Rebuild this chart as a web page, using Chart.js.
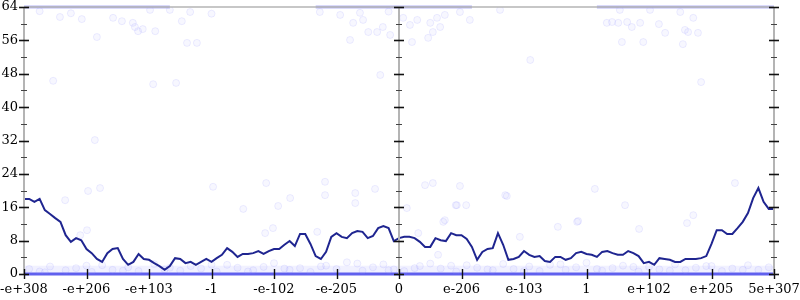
<!DOCTYPE html>
<html>
<head>
<meta charset="utf-8">
<script src="https://cdn.jsdelivr.net/npm/chart.js@4.4.0/dist/chart.umd.min.js"></script>
<style>
  html, body { margin: 0; padding: 0; background: #fff; }
  #wrap { width: 800px; height: 300px; position: relative; }
</style>
</head>
<body>
<div id="wrap"><canvas id="c"></canvas></div>
<script>
// etiquetas del eje x (una cada 12 muestras)
const xTickLabels = ["-e+308", "-e+206", "-e+103", "-1", "-e-102", "-e-205", "0",
  "e-206", "e-103", "1", "e+102", "e+205", "5e+307"];

// línea principal (145 muestras, índice 0..144)
const lineValues = [
  18.0, 18.0, 17.3, 18.0, 15.3, 14.4, 13.4, 12.5, 9.3, 7.7, 8.6, 8.1,
  6.0, 5.0, 3.6, 2.9, 5.0, 6.0, 6.2, 3.6, 2.2, 2.9, 4.8, 3.6,
  3.4, 2.6, 1.9, 1.0, 1.9, 3.8, 3.6, 2.6, 2.9, 2.2, 2.9, 3.6,
  2.9, 3.8, 4.6, 6.2, 5.3, 4.1, 4.8, 4.8, 5.0, 5.5, 4.8, 5.5,
  6.0, 6.0, 7.0, 7.9, 6.7, 9.6, 9.6, 7.2, 4.3, 3.6, 5.3, 8.9,
  9.8, 8.9, 8.6, 9.8, 10.3, 10.1, 8.6, 9.1, 11.0, 11.5, 11.0, 7.9,
  8.6, 8.9, 8.9, 8.6, 7.7, 6.5, 6.5, 8.6, 8.1, 7.9, 9.8, 9.3,
  9.3, 8.4, 6.5, 3.4, 5.3, 6.0, 6.2, 9.8, 7.0, 3.4, 3.6, 4.1,
  5.5, 4.6, 4.1, 4.3, 3.1, 2.9, 4.1, 4.1, 3.4, 3.8, 5.0, 5.3,
  4.8, 4.6, 4.1, 5.3, 5.5, 5.0, 4.6, 4.6, 5.5, 5.0, 4.3, 2.6,
  2.9, 2.2, 3.8, 3.6, 3.4, 2.9, 2.9, 3.6, 3.6, 3.6, 3.8, 4.3,
  7.2, 10.5, 10.5, 9.6, 9.6, 11.0, 12.5, 14.6, 18.2, 20.6, 17.3, 15.6,
  15.6
];

// puntos dispersos cerca del techo (64)
const highX = [6.9, 11.1, 14.0, 17.1, 18.8, 20.9, 21.3, 21.9, 22.8, 25.2, 30.3, 31.3, 33.2, 28.0, 24.2, 31.9,
  62.6, 63.2, 64.5, 65.1, 66.1, 67.8, 68.9, 70.3, 72.8, 74.1, 74.5, 75.5, 77.6, 78.0, 78.5, 79.3, 79.9, 80.8,
  68.4, 56.8, 60.7, 83.7, 85.6, 91.4, 97.2, 111.9, 112.9, 114.1, 115.8, 116.7, 118.3, 121.9, 123.1, 126.9,
  127.5, 129.4, 114.8, 118.9, 126.5, 130.0, 128.5, 5.6, 24.8, 29.2, 114.4, 120.2, 126.0, 3.0, 9.0, 36.0, 70.0];
const highY = [61.6, 61.1, 56.8, 61.4, 60.6, 60.2, 59.2, 58.2, 58.7, 58.2, 60.6, 55.4, 55.4, 63.3, 63.3, 62.8,
  56.1, 60.2, 62.6, 60.9, 58.0, 58.0, 59.2, 57.3, 61.4, 59.7, 55.6, 60.9, 56.6, 60.2, 58.0, 61.4, 59.2, 62.1,
  47.7, 62.8, 62.1, 62.8, 60.9, 63.3, 51.3, 60.2, 60.4, 60.2, 60.4, 59.2, 60.2, 59.9, 57.8, 58.5,
  58.0, 57.8, 55.6, 55.6, 55.1, 46.0, 61.4, 46.3, 45.5, 45.8, 63.3, 63.3, 62.8, 63.0, 62.5, 62.4, 62.9];

// puntos dispersos en la zona media
const midX = [7.9, 12.3, 14.6, 10.8, 12.1, 36.3, 46.5, 57.8, 63.6, 57.8, 42.1, 48.8, 51.1, 63.6, 56.3, 46.3,
  47.8, 67.4, 77.0, 78.5, 83.7, 92.7, 84.9, 83.1, 80.5, 73.5, 75.7, 106.2, 115.4, 118.1, 128.5, 127.3,
  136.5, 80.8, 82.9, 79.5, 92.4, 109.6, 102.5, 106.4, 95.2, 13.6];
const midY = [17.7, 19.9, 20.6, 9.3, 10.5, 20.9, 21.8, 22.1, 19.4, 18.9, 15.6, 16.3, 18.2, 17.0, 10.1, 9.8,
  11.0, 20.4, 21.3, 21.8, 21.1, 18.7, 16.5, 16.5, 12.5, 15.8, 9.8, 12.5, 16.5, 10.8, 14.1, 12.2,
  21.8, 12.9, 16.5, 4.6, 18.9, 20.4, 11.3, 12.7, 8.9, 32.1];

// nube cercana a cero
const lowX = [1, 3, 5, 8, 10, 13, 15, 17, 20, 22, 25, 27, 30, 32, 34, 37, 39, 41, 44, 46, 48, 51, 53, 55,
  58, 60, 62, 65, 67, 69, 71, 73, 76, 78, 80, 83, 85, 87, 90, 92, 94, 97, 99, 101, 104, 106, 108, 111,
  113, 115, 118, 120, 122, 125, 127, 129, 132, 134, 136, 139, 141, 143, 4, 12, 19, 28, 36, 43, 50, 57,
  64, 70, 75, 82, 89, 96, 103, 110, 117, 124, 131, 138];
const lowY = [1.2, 0.6, 1.8, 0.9, 1.4, 0.5, 2.1, 1.0, 1.6, 0.7, 2.4, 1.1, 0.8, 1.9, 1.3, 0.6, 2.2, 1.5,
  0.9, 1.7, 2.6, 1.0, 1.4, 0.5, 2.0, 1.2, 2.8, 0.8, 1.6, 2.3, 1.1, 0.7, 1.9, 2.5, 1.3, 0.6, 2.1, 1.5,
  0.9, 2.4, 1.2, 1.8, 0.7, 2.2, 1.0, 1.6, 2.7, 0.8, 1.4, 2.0, 0.6, 1.7, 1.1, 2.3, 0.9, 1.5, 1.9, 0.7,
  1.3, 2.1, 1.0, 1.6, 0.4, 2.0, 0.8, 1.5, 2.2, 0.6, 1.3, 1.8, 2.5, 0.9, 1.4, 2.0, 1.1, 0.7, 2.3, 1.2,
  1.7, 0.8, 1.9, 1.0];

// bandas densas en 0 y 64
const zeroBandX = [0, 144];
const zeroBandY = [0, 0];
const hazeY = [0.9, 0.9];
const topBandX = [0, 28, null, 56, 86, null, 110, 130, null, 130, 144];
const topBandY = [64, 64, null, 64, 64, null, 64, 64, null, 64, 64];

const pts = (xs, ys) => xs.map((x, i) => ({ x: x, y: x === null ? null : ys[i] }));

const FONT = "'DejaVu Serif', serif";

// ejes, marcas y líneas grises
const axesPlugin = {
  id: "axesDeco",
  afterDatasetsDraw(chart) {
    const { ctx, chartArea: a, scales: { x, y } } = chart;
    const xs = [a.left, x.getPixelForValue(72), a.right];
    ctx.save();
    ctx.strokeStyle = "#b4b4b4";
    ctx.lineWidth = 2;
    xs.forEach(px => {
      ctx.beginPath(); ctx.moveTo(px, a.top); ctx.lineTo(px, a.bottom); ctx.stroke();
    });
    ctx.lineWidth = 1.5;
    ctx.beginPath(); ctx.moveTo(a.left, a.top); ctx.lineTo(a.right, a.top); ctx.stroke();

    for (let v = 0; v <= 64; v += 4) {
      const py = Math.round(y.getPixelForValue(v)) + 0.5;
      const major = v % 8 === 0;
      ctx.strokeStyle = major ? "#111" : "#444";
      ctx.lineWidth = major ? 1.6 : 1;
      const h = major ? 5 : 3;
      xs.forEach(px => {
        ctx.beginPath(); ctx.moveTo(px - h, py); ctx.lineTo(px + h, py); ctx.stroke();
      });
    }
    ctx.strokeStyle = "#111";
    ctx.lineWidth = 1.4;
    for (let i = 0; i <= 144; i += 12) {
      const px = Math.round(x.getPixelForValue(i)) + 0.5;
      ctx.beginPath(); ctx.moveTo(px, a.bottom - 5); ctx.lineTo(px, a.bottom + 5); ctx.stroke();
    }
    ctx.restore();
  }
};

const cloudStyle = {
  type: "scatter",
  pointRadius: 3.5,
  pointBackgroundColor: "rgba(150,150,255,0.08)",
  pointBorderColor: "rgba(120,120,255,0.13)",
  pointBorderWidth: 1,
  showLine: false
};

new Chart(document.getElementById("c"), {
  type: "line",
  data: {
    datasets: [
      { label: "zero", data: pts(zeroBandX, zeroBandY), borderColor: "rgba(70,70,235,0.85)",
        borderWidth: 3, pointRadius: 0, clip: false, order: 5 },
      { label: "haze", data: pts(zeroBandX, hazeY), borderColor: "rgba(150,150,255,0.13)",
        borderWidth: 9, pointRadius: 0, clip: false, order: 6 },
      { label: "top", data: pts(topBandX, topBandY), borderColor: "rgba(90,90,235,0.45)",
        borderWidth: 3, pointRadius: 0, spanGaps: false, clip: false, order: 5 },
      Object.assign({ label: "high", data: pts(highX, highY), order: 4 }, cloudStyle),
      Object.assign({ label: "mid", data: pts(midX, midY), order: 4 }, cloudStyle),
      Object.assign({ label: "low", data: pts(lowX, lowY), order: 4 }, cloudStyle),
      { label: "serie", data: lineValues.map((v, i) => ({ x: i, y: v })), borderColor: "#1f2590",
        borderWidth: 2, pointRadius: 0, tension: 0, order: 1 }
    ]
  },
  options: {
    responsive: true,
    maintainAspectRatio: false,
    animation: false,
    layout: { padding: { top: 7, right: 26, left: 0, bottom: 0 } },
    plugins: { legend: { display: false }, tooltip: { enabled: false } },
    scales: {
      x: {
        type: "linear", min: 0, max: 144,
        grid: { display: false, drawTicks: false },
        border: { display: false },
        afterFit: s => { s.height = 26; s.paddingLeft = 0; s.paddingRight = 0; },
        ticks: {
          stepSize: 12, autoSkip: false, maxRotation: 0, padding: 8,
          color: "#000", font: { family: FONT, size: 13 },
          callback: v => xTickLabels[Math.round(v / 12)]
        }
      },
      y: {
        min: 0, max: 64,
        grid: { display: false, drawTicks: false },
        border: { display: false },
        afterFit: s => { s.width = 24; s.paddingTop = 0; s.paddingBottom = 0; },
        ticks: { stepSize: 8, padding: 6, color: "#000", font: { family: FONT, size: 13 } }
      }
    }
  },
  plugins: [axesPlugin]
});
</script>
</body>
</html>
